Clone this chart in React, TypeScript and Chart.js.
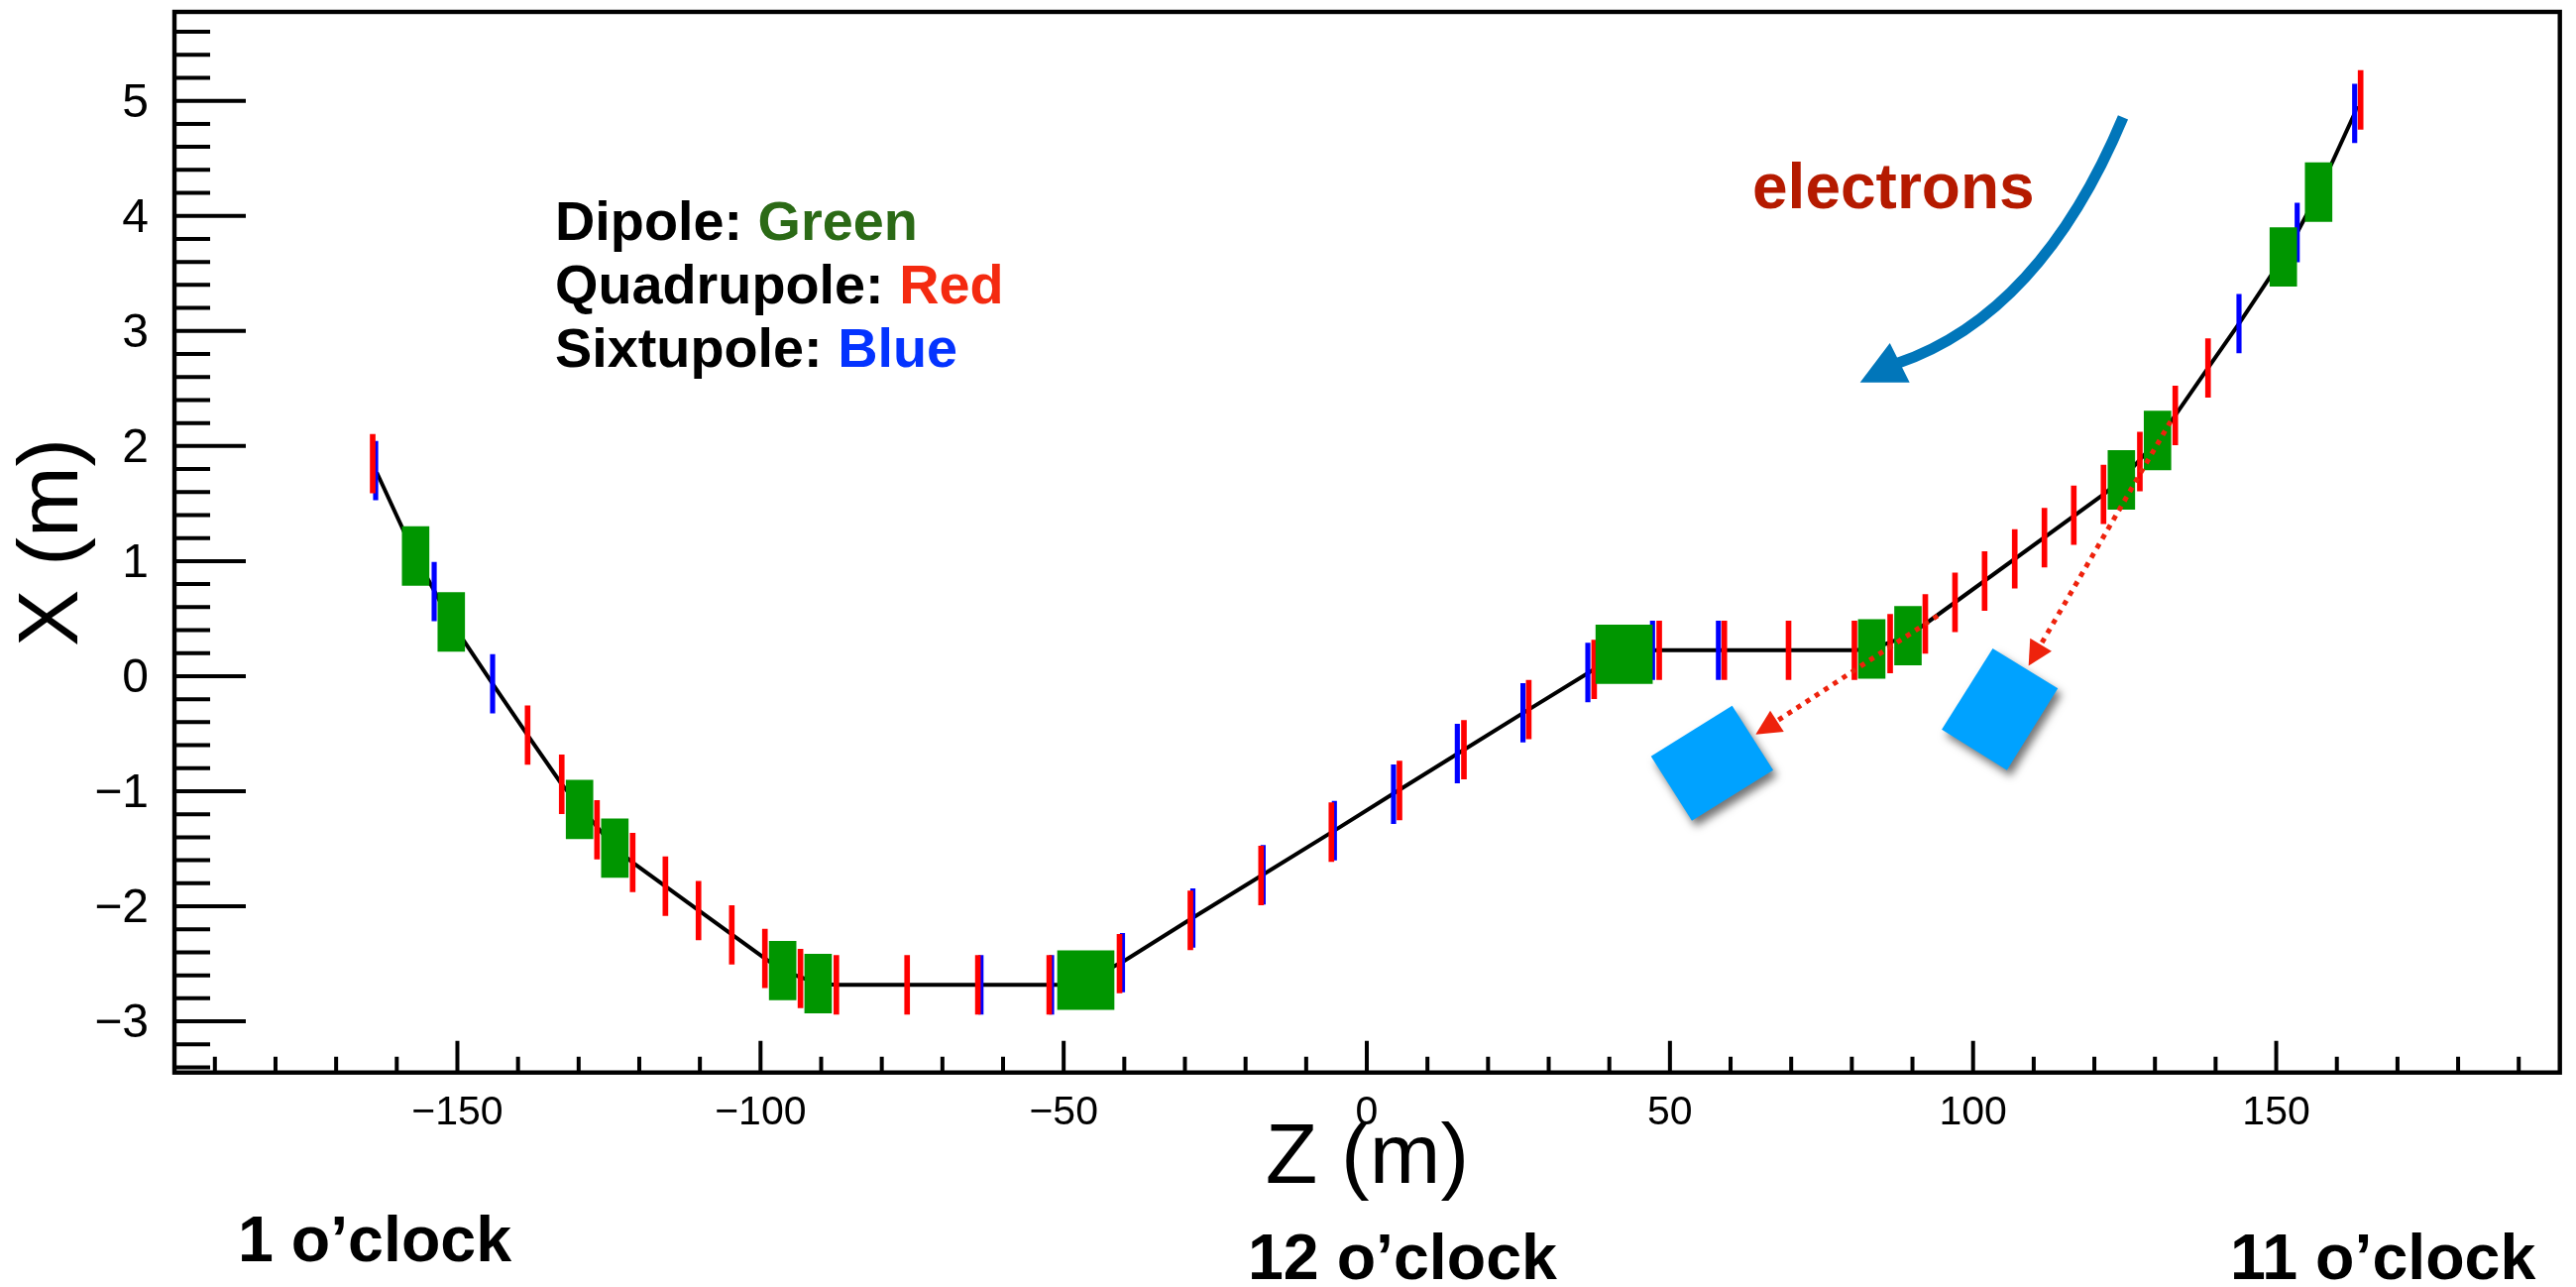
import React, { useEffect, useRef } from "react";
import { Chart, registerables } from "chart.js";

Chart.register(...registerables);

// --- Lattice: Z (m), X (m) ---
const beamZ = [-163.3, -156.9, -151.0, -144.19, -138.42, -132.79, -124.03, -121.09, -99.28, -96.35, -90.5, -87.49, -50.0, -46.35, -40.5, -29.0, -17.3, -5.6, 5.0, 16.0, 26.7, 37.5, 42.44, 47.7, 80.4, 83.28, 89.26, 92.12, 121.51, 124.46, 130.42, 133.35, 138.75, 143.86, 151.17, 153.46, 156.99, 162.94, 163.3];
const beamX = [1.77, 1.04, 0.47, -0.067, -0.512, -0.94, -1.495, -1.62, -2.454, -2.56, -2.672, -2.683, -2.683, -2.642, -2.49, -2.11, -1.73, -1.35, -1.0, -0.64, -0.29, 0.06, 0.19, 0.225, 0.225, 0.236, 0.351, 0.454, 1.58, 1.706, 2.048, 2.266, 2.678, 3.064, 3.643, 3.856, 4.207, 4.891, 4.955];

const quadZ = [-163.97, -138.42, -132.79, -126.97, -121.09, -115.69, -110.23, -104.74, -99.28, -93.41, -87.49, -75.82, -64.15, -52.38, -40.79, -29.1, -17.44, -5.84, 5.39, 16.02, 26.71, 37.5, 48.23, 58.97, 69.56, 80.43, 86.32, 92.12, 97.02, 101.9, 106.87, 111.77, 116.61, 121.51, 127.51, 133.35, 138.75, 163.92];
const quadX = [1.847, -0.512, -0.94, -1.335, -1.62, -1.825, -2.037, -2.249, -2.454, -2.628, -2.683, -2.683, -2.683, -2.683, -2.498, -2.123, -1.733, -1.356, -0.994, -0.64, -0.29, 0.059, 0.225, 0.225, 0.225, 0.225, 0.282, 0.454, 0.641, 0.827, 1.02, 1.204, 1.399, 1.58, 1.865, 2.266, 2.678, 5.008];

const sextZ = [-163.48, -153.83, -144.19, -63.64, -51.99, -40.3, -28.69, -17.1, -5.35, 4.41, 14.93, 25.76, 36.46, 47.13, 58.0, 143.86, 153.46, 162.94];
const sextX = [1.786, 0.735, -0.067, -2.683, -2.683, -2.49, -2.102, -1.726, -1.343, -1.026, -0.673, -0.318, 0.032, 0.225, 0.225, 3.064, 3.856, 4.891];

const dipoleZ = [-156.89, -151.01, -129.85, -124.03, -96.35, -90.5, 83.28, 89.26, 124.46, 130.42, 151.17, 156.99];
const dipoleX = [1.044, 0.471, -1.158, -1.495, -2.559, -2.672, 0.236, 0.351, 1.706, 2.048, 3.643, 4.207];

const longDipoleZ = [-46.35, 42.44];
const longDipoleX = [-2.642, 0.19];

const magnetHalfHeight = 0.255;

// --- Annotations, in the same Z/X coordinates ---
const detectorPanels: [number, number][][] = [
  [[60.26, -0.257], [67.03, -0.817], [53.62, -1.256], [46.87, -0.696]],
  [[103.24, 0.24], [113.98, -0.107], [105.58, -0.817], [94.83, -0.464]],
];
const dottedLines: [number, number][][] = [
  [[94.16, 0.525], [67.68, -0.389]],
  [[132.58, 2.214], [111.17, 0.275]],
];
const dottedHeads: [number, number][][] = [
  [[64.13, -0.507], [66.54, -0.3], [68.79, -0.483]],
  [[109.15, 0.09], [109.41, 0.329], [112.96, 0.217]],
];
const electronCurve: [number, number][] = [[124.73, 4.857], [111.08, 3.14], [87.35, 2.716]];
const electronHead: [number, number][] = [[81.36, 2.553], [86.27, 2.895], [89.54, 2.553]];

const legendLines = [
  ["Dipole: ", "Green", "#2B6A16"],
  ["Quadrupole: ", "Red", "#F42A10"],
  ["Sixtupole: ", "Blue", "#0433FF"],
];
const clockLabels = ["1 o\u2019clock", "12 o\u2019clock", "11 o\u2019clock"];

const FONT = '"Liberation Sans", Arimo, Helvetica, Arial, sans-serif';
const minus = (v: number) => String(v).replace("-", "\u2212");
const bars = (zs: number[], xs: number[]) =>
  zs.map((z, i) => ({ x: z, y: [xs[i] - magnetHalfHeight, xs[i] + magnetHalfHeight] }));

const drawingPlugin = {
  id: "beamlineDrawing",
  afterDatasetsDraw(chart: any) {
    const { ctx, scales, chartArea: a } = chart;
    const px = (p: [number, number]) => [scales.x.getPixelForValue(p[0]), scales.y.getPixelForValue(p[1])];
    const poly = (pts: [number, number][]) => {
      ctx.beginPath();
      pts.forEach((p, i) => {
        const [x, y] = px(p);
        if (i) ctx.lineTo(x, y);
        else ctx.moveTo(x, y);
      });
      ctx.closePath();
    };
    ctx.save();

    // Detector panels with drop shadow
    ctx.save();
    ctx.fillStyle = "#00A2FF";
    ctx.shadowColor = "rgba(0,0,0,0.55)";
    ctx.shadowBlur = 9;
    ctx.shadowOffsetX = 4;
    ctx.shadowOffsetY = 6;
    detectorPanels.forEach((p) => {
      poly(p);
      ctx.fill();
    });
    ctx.restore();

    // Dotted red arrows
    ctx.strokeStyle = "#EE220C";
    ctx.fillStyle = "#EE220C";
    ctx.lineWidth = 5;
    ctx.setLineDash([5, 6]);
    dottedLines.forEach((l) => {
      const [x0, y0] = px(l[0]);
      const [x1, y1] = px(l[1]);
      ctx.beginPath();
      ctx.moveTo(x0, y0);
      ctx.lineTo(x1, y1);
      ctx.stroke();
    });
    ctx.setLineDash([]);
    dottedHeads.forEach((h) => {
      poly(h);
      ctx.fill();
    });

    // Curved electron-direction arrow
    const [c0, c1, c2] = electronCurve.map(px);
    ctx.strokeStyle = "#0176BA";
    ctx.fillStyle = "#0176BA";
    ctx.lineWidth = 11;
    ctx.beginPath();
    ctx.moveTo(c0[0], c0[1]);
    ctx.quadraticCurveTo(c1[0], c1[1], c2[0], c2[1]);
    ctx.stroke();
    poly(electronHead);
    ctx.fill();

    // Inward ROOT-style tick marks, from the axes' own ticks
    ctx.strokeStyle = "#000";
    ctx.lineWidth = 4;
    ctx.beginPath();
    scales.x.ticks.forEach((t: any) => {
      const x = scales.x.getPixelForValue(t.value);
      const isMajor = Math.abs(t.value % 50) < 1e-6;
      ctx.moveTo(x, a.bottom);
      ctx.lineTo(x, a.bottom - (isMajor ? 32 : 16));
    });
    scales.y.ticks.forEach((t: any) => {
      const y = scales.y.getPixelForValue(t.value);
      const isMajor = Math.abs(t.value - Math.round(t.value)) < 1e-6;
      ctx.moveTo(a.left, y);
      ctx.lineTo(a.left + (isMajor ? 72 : 36), y);
    });
    ctx.stroke();

    // Frame
    ctx.lineWidth = 4.4;
    ctx.strokeRect(a.left, a.top, a.right - a.left, a.bottom - a.top);

    // Text
    ctx.textBaseline = "alphabetic";
    ctx.textAlign = "left";
    ctx.font = `bold 55.8px ${FONT}`;
    legendLines.forEach(([name, colour, col], i) => {
      const y = 241.5 + i * 64;
      ctx.fillStyle = "#000";
      ctx.fillText(name, 560, y);
      ctx.fillStyle = col;
      ctx.fillText(colour, 560 + ctx.measureText(name).width, y);
    });
    ctx.font = `bold 64px ${FONT}`;
    ctx.fillStyle = "#B51A00";
    ctx.fillText("electrons", 1768, 210);
    ctx.font = `bold 64.5px ${FONT}`;
    ctx.fillStyle = "#000";
    ctx.fillText(clockLabels[0], 240, 1272);
    ctx.fillText(clockLabels[1], 1259, 1290);
    ctx.fillText(clockLabels[2], 2250, 1290);
    ctx.restore();
  },
};

export default function App() {
  const ref = useRef<HTMLCanvasElement>(null);
  useEffect(() => {
    const chart = new Chart(ref.current as HTMLCanvasElement, {
      type: "bar",
      data: {
        datasets: [
          { label: "Dipole", data: bars(dipoleZ, dipoleX) as any, backgroundColor: "#009600", barThickness: 27, order: 1, grouped: false },
          { label: "Long dipole", data: bars(longDipoleZ, longDipoleX) as any, backgroundColor: "#009600", barThickness: 57, order: 1, grouped: false },
          { label: "Quadrupole", data: bars(quadZ, quadX) as any, backgroundColor: "#FF0000", barThickness: 5, order: 2, grouped: false },
          { label: "Sextupole", data: bars(sextZ, sextX) as any, backgroundColor: "#0000FF", barThickness: 4.5, order: 3, grouped: false },
          {
            type: "line",
            label: "Beam",
            data: beamZ.map((z, i) => ({ x: z, y: beamX[i] })) as any,
            borderColor: "#000",
            borderWidth: 4,
            pointRadius: 0,
            tension: 0,
            order: 4,
          },
        ] as any,
      },
      options: {
        responsive: false,
        animation: false,
        devicePixelRatio: 1,
        layout: { autoPadding: false, padding: { top: 12, right: 16.3, left: 0, bottom: 0 } },
        plugins: { legend: { display: false }, tooltip: { enabled: false } },
        scales: {
          x: {
            type: "linear",
            offset: false,
            min: -196.67,
            max: 196.78,
            grid: { display: false },
            border: { display: false },
            ticks: {
              stepSize: 10,
              autoSkip: false,
              maxRotation: 0,
              includeBounds: false,
              padding: 8,
              color: "#000",
              font: { family: FONT, size: 41 },
              callback: (v: any) => (Math.abs(v % 50) < 1e-6 ? minus(Math.round(v)) : ""),
            },
            title: { display: true, text: "Z (m)", color: "#000", font: { family: FONT, size: 86 }, padding: { top: 0, bottom: 77 } },
            afterFit: (s: any) => {
              s.height = 216.3;
              s.paddingLeft = 0;
              s.paddingRight = 0;
            },
          },
          y: {
            type: "linear",
            min: -3.445,
            max: 5.773,
            grid: { display: false },
            border: { display: false },
            ticks: {
              stepSize: 0.2,
              autoSkip: false,
              includeBounds: false,
              padding: 18,
              labelOffset: 3,
              color: "#000",
              font: { family: FONT, size: 48 },
              callback: (v: any) => (Math.abs(v - Math.round(v)) < 1e-6 ? minus(Math.round(v)) : ""),
            },
            title: { display: true, text: "X (m)", color: "#000", font: { family: FONT, size: 86 }, padding: { top: 3, bottom: 0 } },
            afterFit: (s: any) => {
              s.width = 176;
              s.paddingTop = 0;
              s.paddingBottom = 0;
            },
          },
        },
      } as any,
      plugins: [drawingPlugin],
    });
    return () => chart.destroy();
  }, []);
  return (
    <div style={{ position: "absolute", left: 0, top: 0, width: 2599, height: 1298, overflow: "hidden", background: "#fff" }}>
      <canvas ref={ref} width={2599} height={1298} style={{ display: "block", width: 2599, height: 1298 }} />
    </div>
  );
}
